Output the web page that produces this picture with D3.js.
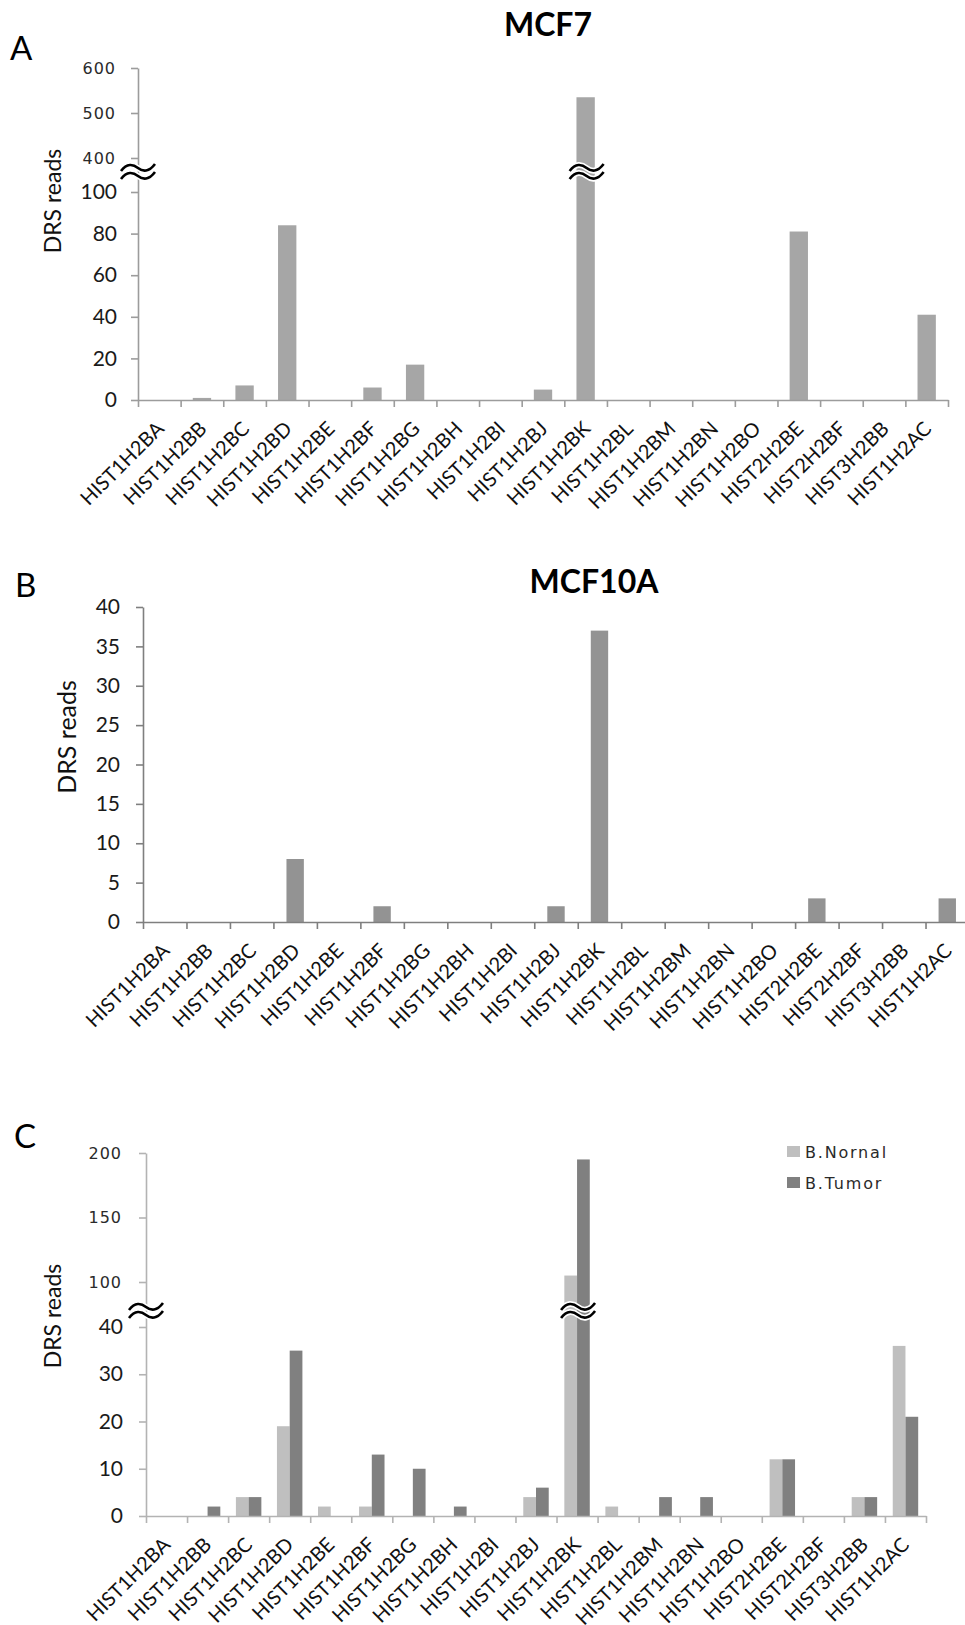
<!DOCTYPE html>
<html>
<head>
<meta charset="utf-8">
<script src="https://cdn.jsdelivr.net/npm/d3@7"></script>
<style>
  body { margin: 0; background: #fff; }
  svg text { font-family: Lato, "Open Sans", sans-serif; }
</style>
</head>
<body>
<svg id="fig" width="965" height="1625"></svg>
<script>
// histone genes on the x axis (same order in all three panels)
const genes = ['HIST1H2BA','HIST1H2BB','HIST1H2BC','HIST1H2BD','HIST1H2BE','HIST1H2BF',
  'HIST1H2BG','HIST1H2BH','HIST1H2BI','HIST1H2BJ','HIST1H2BK','HIST1H2BL','HIST1H2BM',
  'HIST1H2BN','HIST1H2BO','HIST2H2BE','HIST2H2BF','HIST3H2BB','HIST1H2AC'];

// DRS reads
const mcf7Reads   = [0, 1, 7, 84, 0, 6, 17, 0, 0, 5, 535, 0, 0, 0, 0, 81, 0, 0, 41];
const mcf10aReads = [0, 0, 0, 8, 0, 2, 0, 0, 0, 2, 37, 0, 0, 0, 0, 3, 0, 0, 3];
const normalReads = [0, 0, 4, 19, 2, 2, 0, 0, 0, 4, 105, 2, 0, 0, 0, 12, 0, 4, 36];
const tumorReads  = [0, 2, 4, 35, 0, 13, 10, 2, 0, 6, 195, 0, 4, 4, 0, 12, 0, 4, 21];
const seriesNames = ['B.Nornal', 'B.Tumor'];

// tick labels
const mcf7LowTicks  = [0, 20, 40, 60, 80, 100];
const mcf7HighTicks = [400, 500, 600];
const mcf10aTicks   = [0, 5, 10, 15, 20, 25, 30, 35, 40];
const breastLowTicks  = [0, 10, 20, 30, 40];
const breastHighTicks = [100, 150, 200];

const svg = d3.select('#fig');
svg.append('rect').attr('width', 965).attr('height', 1625).attr('fill', '#fff');

// "≈" axis break mark
function breakMark(cx, cy) {
  const g = svg.append('g').attr('transform', `translate(${cx},${cy})`);
  const wave = 'M-17,3 C-11,-5 -5,-4 0,0 S11,4 17,-4';
  [-4, 4].forEach(off => {
    g.append('path').attr('d', wave).attr('transform', `translate(0,${off})`)
      .attr('fill', 'none').attr('stroke', '#fff').attr('stroke-width', 6);
  });
  [-4, 4].forEach(off => {
    g.append('path').attr('d', wave).attr('transform', `translate(0,${off})`)
      .attr('fill', 'none').attr('stroke', '#000').attr('stroke-width', 2.6);
  });
}

function panel(cfg) {
  const g = svg.append('g');
  const x = d3.scaleBand().domain(genes).range(cfg.xRange);
  const edges = d3.scaleLinear().domain([0, genes.length]).range(cfg.xRange);
  const y = cfg.y;
  const y0 = y(0);
  const groupW = x.bandwidth() * cfg.barFrac;
  const sub = d3.scaleBand().domain(cfg.series.map(s => s.name)).range([0, groupW]);

  cfg.series.forEach(s => {
    g.append('g').selectAll('rect')
      .data(genes.map((c, i) => ({ c, v: s.values[i] })))
      .join('rect')
      .attr('x', d => x(d.c) + (x.bandwidth() - groupW) / 2 + sub(s.name))
      .attr('width', sub.bandwidth())
      .attr('y', d => y(d.v))
      .attr('height', d => y0 - y(d.v))
      .attr('fill', s.color);
  });

  // x axis: ticks between categories
  const xa = g.append('g').attr('transform', `translate(0,${y0})`)
    .call(d3.axisBottom(edges).tickValues(d3.range(genes.length + 1)).tickSize(7).tickSizeOuter(0).tickFormat(''));
  xa.selectAll('path,line').attr('stroke', cfg.axisColor).attr('stroke-width', 1.6);

  // rotated gene names
  const xl = g.append('g').attr('transform', `translate(0,${y0})`)
    .call(d3.axisBottom(x).tickSize(0).tickPadding(0));
  xl.select('.domain').remove();
  xl.selectAll('text')
    .attr('y', 0).attr('dy', null)
    .attr('text-anchor', 'end')
    .attr('transform', `translate(${cfg.lblDx},${cfg.lblDy}) rotate(-45)`)
    .style('font-family', 'Lato, sans-serif').style('font-size', '20px').attr('fill', '#111');

  // y axis, lower segment
  const ya = g.append('g').attr('transform', `translate(${cfg.xRange[0]},0)`)
    .call(d3.axisLeft(y).tickValues(cfg.lowTicks).tickSize(7).tickSizeOuter(0).tickPadding(cfg.tickPad));
  ya.selectAll('path,line').attr('stroke', cfg.axisColor).attr('stroke-width', 1.6);
  ya.selectAll('text').style('font-family', 'Lato, sans-serif')
    .style('font-size', cfg.tickFont + 'px').attr('fill', '#1a1a1a');

  // y axis, upper segment (above the break)
  if (cfg.highTicks) {
    const yb = g.append('g').attr('transform', `translate(${cfg.xRange[0]},0)`)
      .call(d3.axisLeft(y).tickValues(cfg.highTicks).tickSize(7).tickPadding(cfg.tickPad + 1));
    yb.select('.domain').remove();
    yb.selectAll('line').attr('stroke', cfg.axisColor).attr('stroke-width', 1.6);
    yb.selectAll('text').style('font-family', '"DejaVu Sans", sans-serif')
      .style('font-size', '16px').style('letter-spacing', '1px').attr('fill', '#2a2a2a');
  }

  // axis title
  g.append('text')
    .attr('transform', `translate(${cfg.yLabel[0]},${cfg.yLabel[1]}) rotate(-90)`)
    .attr('text-anchor', 'middle')
    .style('font-size', cfg.yLabelSize + 'px').attr('fill', '#111')
    .text('DRS reads');

  // panel letter and title
  g.append('text').attr('x', cfg.letter[0]).attr('y', cfg.letter[1])
    .style('font-size', '33px').attr('fill', '#000').text(cfg.letterText);
  if (cfg.title) {
    g.append('text').attr('x', cfg.title[0]).attr('y', cfg.title[1])
      .attr('text-anchor', 'middle')
      .style('font-size', '32px').style('font-weight', 700).attr('fill', '#000')
      .text(cfg.titleText);
  }

  // axis break marks (on the axis and across the tall bar)
  if (cfg.breakY) {
    breakMark(cfg.xRange[0], cfg.breakY);
    breakMark(x('HIST1H2BK') + x.bandwidth() / 2 + 1, cfg.breakY);
  }
  return { g, x, y };
}

// A — MCF7
panel({
  xRange: [138, 948],
  y: d3.scaleLinear().domain([0, 100, 400, 600]).range([400, 192, 158, 68]),
  series: [{ name: 'MCF7', values: mcf7Reads, color: '#a6a6a6' }],
  barFrac: 0.43, axisColor: '#9c9c9c',
  lowTicks: mcf7LowTicks, highTicks: mcf7HighTicks,
  tickPad: 14, tickFont: 21,
  lblDx: 6, lblDy: 30,
  yLabel: [61, 201], yLabelSize: 23,
  letter: [10, 60], letterText: 'A',
  title: [548, 36], titleText: 'MCF7',
  breakY: 172
});

// B — MCF10A
panel({
  xRange: [143, 969],
  y: d3.scaleLinear().domain([0, 40]).range([922, 607]),
  series: [{ name: 'MCF10A', values: mcf10aReads, color: '#939393' }],
  barFrac: 0.4, axisColor: '#7f7f7f',
  lowTicks: mcf10aTicks,
  tickPad: 16, tickFont: 21,
  lblDx: 6, lblDy: 30,
  yLabel: [76, 737], yLabelSize: 25,
  letter: [15, 597], letterText: 'B',
  title: [594, 593], titleText: 'MCF10A'
});

// C — breast normal vs tumor
panel({
  xRange: [146, 926],
  y: d3.scaleLinear().domain([0, 40, 100, 200]).range([1516, 1327, 1282, 1153]),
  series: [
    { name: seriesNames[0], values: normalReads, color: '#bfbfbf' },
    { name: seriesNames[1], values: tumorReads, color: '#808080' }
  ],
  barFrac: 0.62, axisColor: '#b3b3b3',
  lowTicks: breastLowTicks, highTicks: breastHighTicks,
  tickPad: 16, tickFont: 21,
  lblDx: 5, lblDy: 30,
  yLabel: [61, 1316], yLabelSize: 23,
  letter: [14, 1148], letterText: 'C',
  breakY: 1311
});

// legend for panel C
const leg = svg.append('g').attr('transform', 'translate(787,1146)');
const legColor = d3.scaleOrdinal().domain(seriesNames).range(['#bfbfbf', '#808080']);
seriesNames.forEach((n, i) => {
  const row = leg.append('g').attr('transform', `translate(0,${i * 31})`);
  row.append('rect').attr('width', 13).attr('height', 11).attr('fill', legColor(n));
  row.append('text').attr('x', 18).attr('y', 11.5)
    .style('font-family', '"DejaVu Sans", sans-serif').style('font-size', '16px')
    .style('letter-spacing', '1.8px').attr('fill', '#2a2a2a').text(n);
});
</script>
</body>
</html>
